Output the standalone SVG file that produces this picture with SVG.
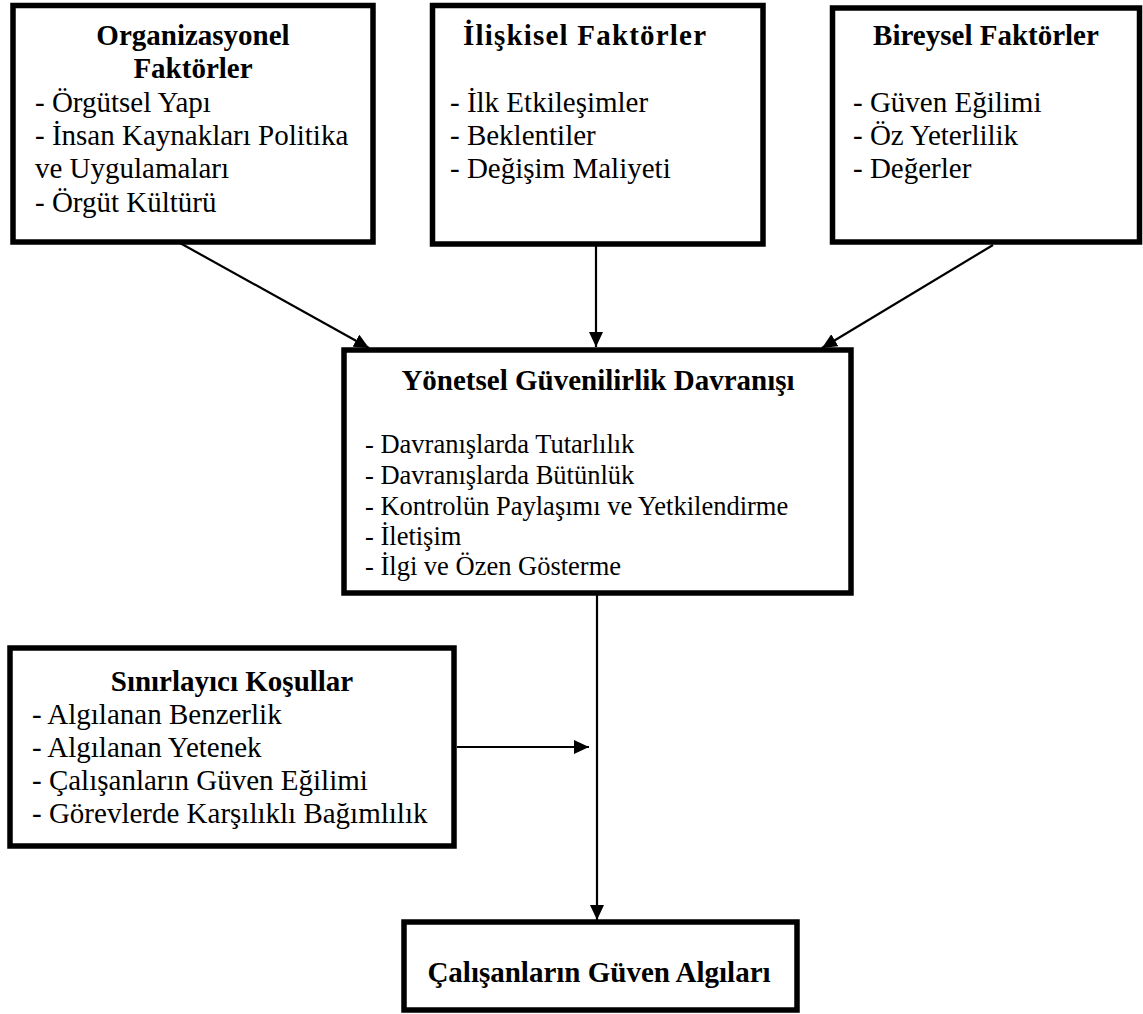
<svg xmlns="http://www.w3.org/2000/svg" width="1143" height="1014" viewBox="0 0 1143 1014">
<style>
.box{fill:#fff;stroke:#000;stroke-width:5.5}
.t{font-family:"Liberation Serif","Times New Roman",serif;font-size:29px;fill:#000}
.b{font-weight:bold}
.m{text-anchor:middle}
.s{font-size:26.5px}
.c{stroke:#000;stroke-width:2.2;fill:none;marker-end:url(#ah)}
</style>
<defs>
<marker id="ah" viewBox="0 0 15 14" refX="15" refY="7" markerWidth="15" markerHeight="14" markerUnits="userSpaceOnUse" orient="auto">
<path d="M0,0 L15,7 L0,14 z" fill="#000"/>
</marker>
</defs>
<rect width="1143" height="1014" fill="#fff"/>
<g id="organizasyonel">
<rect class="box" x="13" y="5.5" width="360" height="236.5"/>
<text class="t b m" x="193" y="45">Organizasyonel</text>
<text class="t b m" x="193" y="78">Faktörler</text>
<text class="t" x="35" y="112">- Örgütsel Yapı</text>
<text class="t" x="35" y="145">- İnsan Kaynakları Politika</text>
<text class="t" x="35" y="178">ve Uygulamaları</text>
<text class="t" x="35" y="212">- Örgüt Kültürü</text>
</g>
<g id="iliskisel">
<rect class="box" x="432.5" y="5.5" width="330.5" height="238.5"/>
<text class="t b" x="463" y="45" textLength="243" lengthAdjust="spacing">İlişkisel Faktörler</text>
<text class="t" x="450" y="112">- İlk Etkileşimler</text>
<text class="t" x="450" y="145">- Beklentiler</text>
<text class="t" x="450" y="178">- Değişim Maliyeti</text>
</g>
<g id="bireysel">
<rect class="box" x="832.5" y="8" width="307" height="234"/>
<text class="t b m" x="986" y="45">Bireysel Faktörler</text>
<text class="t" x="853" y="112">- Güven Eğilimi</text>
<text class="t" x="853" y="145">- Öz Yeterlilik</text>
<text class="t" x="853" y="178">- Değerler</text>
</g>
<g id="yonetsel">
<rect class="box" x="344" y="350" width="507" height="243"/>
<text class="t b m" x="598" y="390">Yönetsel Güvenilirlik Davranışı</text>
<text class="t s" x="365" y="453">- Davranışlarda Tutarlılık</text>
<text class="t s" x="365" y="484">- Davranışlarda Bütünlük</text>
<text class="t s" x="365" y="515">- Kontrolün Paylaşımı ve Yetkilendirme</text>
<text class="t s" x="365" y="545">- İletişim</text>
<text class="t s" x="365" y="575">- İlgi ve Özen Gösterme</text>
</g>
<g id="sinirlayici">
<rect class="box" x="10" y="648" width="444" height="198"/>
<text class="t b m" x="232" y="691">Sınırlayıcı Koşullar</text>
<text class="t" x="32" y="724">- Algılanan Benzerlik</text>
<text class="t" x="32" y="757">- Algılanan Yetenek</text>
<text class="t" x="32" y="790">- Çalışanların Güven Eğilimi</text>
<text class="t" x="32" y="823">- Görevlerde Karşılıklı Bağımlılık</text>
</g>
<g id="guven-algilari">
<rect class="box" x="404" y="922" width="393" height="88"/>
<text class="t b m" x="599" y="982">Çalışanların Güven Algıları</text>
</g>
<g id="connectors">
<line class="c" x1="180" y1="243" x2="369" y2="348"/>
<line class="c" x1="596" y1="244" x2="596" y2="347"/>
<line class="c" x1="993" y1="245" x2="822" y2="348"/>
<line class="c" x1="457" y1="747" x2="589" y2="747"/>
<line class="c" x1="597" y1="593" x2="597" y2="920"/>
</g>
</svg>
